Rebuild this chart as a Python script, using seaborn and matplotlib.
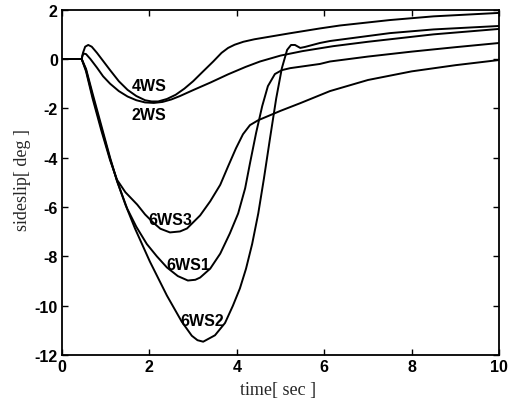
import matplotlib
matplotlib.use("Agg")
import matplotlib.pyplot as plt
import seaborn as sns
import pandas as pd

# sideslip response traces, time in seconds, sideslip in degrees
t_4ws = [0, 0.45, 0.48, 0.53, 0.6, 0.68, 0.8, 0.95, 1.1, 1.3, 1.5, 1.7, 1.9, 2.05, 2.2, 2.4, 2.6, 2.8, 3.0,
         3.2, 3.46, 3.65, 3.8, 3.95, 4.15, 4.4, 4.6, 5.2, 5.9, 6.36, 7.5, 8.5, 10]
y_4ws = [0, 0, 0.25, 0.5, 0.57, 0.5, 0.25, -0.1, -0.45, -0.9, -1.25, -1.5, -1.67, -1.72, -1.72, -1.62, -1.45, -1.2, -0.9,
         -0.55, -0.1, 0.25, 0.45, 0.58, 0.7, 0.8, 0.86, 1.04, 1.24, 1.36, 1.58, 1.73, 1.87]

t_2ws = [0, 0.45, 0.47, 0.5, 0.55, 0.65, 0.8, 0.94, 1.1, 1.3, 1.5, 1.7, 1.9, 2.1, 2.3, 2.5, 2.7, 3.0, 3.4, 3.8,
         4.2, 4.53, 5.0, 5.5, 6.2, 7.0, 8.5, 10]
y_2ws = [0, 0, 0.15, 0.22, 0.2, 0.0, -0.35, -0.7, -1.0, -1.3, -1.52, -1.67, -1.76, -1.78, -1.74, -1.64, -1.5, -1.26, -0.95, -0.62,
         -0.32, -0.1, 0.14, 0.32, 0.52, 0.7, 1.0, 1.22]

t_6ws1 = [0, 0.45, 0.55, 0.7, 0.9, 1.1, 1.26, 1.49, 1.7, 1.94, 2.17, 2.4, 2.65, 2.88, 3.05, 3.16, 3.39, 3.62, 3.84,
          4.03, 4.19, 4.3, 4.44, 4.58, 4.71, 4.87, 5.03, 5.22, 5.9, 6.13, 7, 8, 9, 10]
y_6ws1 = [0, 0, -0.45, -1.5, -2.8, -4.05, -4.95, -6.06, -6.8, -7.5, -8.0, -8.45, -8.8, -8.98, -8.95, -8.86, -8.5, -7.89, -7.07,
          -6.26, -5.24, -4.23, -3.0, -1.91, -1.1, -0.61, -0.45, -0.37, -0.2, -0.1, 0.1, 0.3, 0.48, 0.65]

t_6ws2 = [0, 0.45, 0.55, 0.7, 0.9, 1.1, 1.26, 1.45, 1.67, 2.01, 2.4, 2.74, 2.97, 3.1, 3.23, 3.5, 3.73, 3.91, 4.07,
          4.21, 4.35, 4.49, 4.62, 4.76, 4.9, 5.03, 5.15, 5.24, 5.33, 5.45, 5.56, 5.9, 6.13, 7.5, 8.5, 10]
y_6ws2 = [0, 0, -0.4, -1.4, -2.7, -4.0, -4.95, -5.9, -6.87, -8.21, -9.59, -10.65, -11.22, -11.4, -11.46, -11.2, -10.7, -10.0, -9.3,
          -8.5, -7.5, -6.26, -4.84, -3.2, -1.6, -0.37, 0.37, 0.57, 0.57, 0.45, 0.49, 0.65, 0.73, 1.05, 1.2, 1.34]

t_6ws3 = [0, 0.45, 0.55, 0.7, 0.9, 1.1, 1.26, 1.45, 1.72, 1.9, 2.08, 2.25, 2.47, 2.7, 2.86, 3.16, 3.39, 3.62, 3.8,
          3.98, 4.14, 4.3, 4.49, 5.0, 5.45, 6.13, 7, 8, 9, 10]
y_6ws3 = [0, 0, -0.5, -1.6, -2.9, -4.1, -4.9, -5.4, -5.9, -6.3, -6.62, -6.88, -7.03, -6.99, -6.87, -6.34, -5.77, -5.1, -4.35,
          -3.62, -3.05, -2.68, -2.48, -2.1, -1.79, -1.3, -0.85, -0.5, -0.25, -0.04]

series = {
    "4WS": (t_4ws, y_4ws),
    "2WS": (t_2ws, y_2ws),
    "6WS1": (t_6ws1, y_6ws1),
    "6WS2": (t_6ws2, y_6ws2),
    "6WS3": (t_6ws3, y_6ws3),
}

# inline curve labels: (text, time, sideslip)
labels = [
    ("4WS", 1.99, -1.06),
    ("2WS", 1.99, -2.24),
    ("6WS3", 2.47, -6.5),
    ("6WS1", 2.88, -8.33),
    ("6WS2", 3.2, -10.6),
]

x_ticks = [0, 2, 4, 6, 8, 10]
y_ticks = [2, 0, -2, -4, -6, -8, -10, -12]

frames = []
for name, (t, y) in series.items():
    frames.append(pd.DataFrame({"time": t, "sideslip": y, "case": name}))
df = pd.concat(frames, ignore_index=True)

sns.set_style("ticks")
plt.rcParams["font.family"] = ["Liberation Sans", "DejaVu Sans"]

fig = plt.figure(figsize=(5.21, 4.02), dpi=100)
ax = fig.add_axes([0.119, 0.1144, 0.839, 0.859])

sns.lineplot(data=df, x="time", y="sideslip", hue="case", units="case",
             estimator=None, sort=False, palette=["black"] * 5,
             linewidth=1.4, legend=False, ax=ax)

for text, tx, ty in labels:
    ax.text(tx, ty, text, ha="center", va="center", fontsize=11.5,
            fontweight="bold", color="black")

ax.set_xlim(0, 10)
ax.set_ylim(-12, 2)
ax.set_xticks(x_ticks)
ax.set_yticks(y_ticks)
ax.set_xticklabels([str(v) for v in x_ticks], fontweight="bold", fontsize=11.5)
ax.set_yticklabels([str(v) for v in y_ticks], fontweight="bold", fontsize=11.5)
ax.tick_params(direction="in", top=True, right=True, length=4, width=1, colors="black", pad=3)
for s in ax.spines.values():
    s.set_linewidth(1.3)
    s.set_color("black")

ax.set_xlabel("time[ sec ]", fontsize=13, family=["Liberation Serif"])
ax.set_ylabel("sideslip[ deg ]", fontsize=13, family=["Liberation Serif"])
ax.xaxis.set_label_coords(0.495, -0.075)
ax.yaxis.set_label_coords(-0.07, 0.51)

fig.savefig("out.png", dpi=100)
